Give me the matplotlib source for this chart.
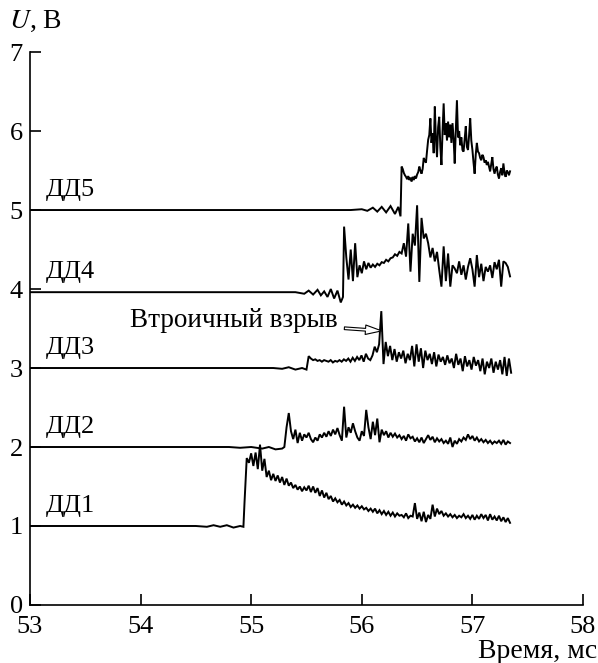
import numpy as np
import matplotlib
matplotlib.use("Agg")
import matplotlib.pyplot as plt

plt.rcParams['font.family'] = ['Liberation Serif', 'DejaVu Serif']
plt.rcParams['mathtext.fontset'] = 'stix'

# ---------------- data ----------------
x_ticks = [53, 54, 55, 56, 57, 58]
y_ticks = [0, 1, 2, 3, 4, 5, 6, 7]
labels = ["ДД1", "ДД2", "ДД3", "ДД4", "ДД5"]
baselines = [1.0, 2.0, 3.0, 3.96, 5.0]

# quiet part (t, v) and noisy part (t_start, t_end, values)
dd1_quiet_t = [53.0, 54.50, 54.60, 54.66, 54.72, 54.78, 54.84, 54.90, 54.93]
dd1_quiet_v = [1.0, 1.0, 0.99, 1.01, 0.99, 1.01, 0.98, 1.00, 0.99]
dd1_span = (54.94, 57.34)
dd1_v = [1.30, 1.86, 1.80, 1.92, 1.76, 1.93, 1.72, 2.03, 1.70, 1.85, 1.62, 1.70, 1.58, 1.66, 1.57,
         1.64, 1.55, 1.62, 1.52, 1.60, 1.51, 1.55, 1.48, 1.52, 1.46, 1.50, 1.44, 1.49, 1.45, 1.51,
         1.43, 1.50, 1.42, 1.48, 1.38, 1.45, 1.36, 1.42, 1.34, 1.38, 1.31, 1.35, 1.30, 1.33, 1.27,
         1.31, 1.26, 1.29, 1.24, 1.27, 1.23, 1.26, 1.22, 1.25, 1.21, 1.23, 1.19, 1.22, 1.18, 1.22,
         1.16, 1.20, 1.15, 1.19, 1.14, 1.18, 1.13, 1.17, 1.12, 1.16, 1.13, 1.14, 1.11, 1.16, 1.10,
         1.13, 1.12, 1.29, 1.09, 1.17, 1.06, 1.18, 1.05, 1.14, 1.09, 1.27, 1.12, 1.22, 1.15, 1.19,
         1.13, 1.16, 1.12, 1.15, 1.11, 1.14, 1.10, 1.13, 1.11, 1.15, 1.10, 1.13, 1.09, 1.14, 1.08,
         1.13, 1.09, 1.15, 1.10, 1.14, 1.07, 1.15, 1.08, 1.12, 1.07, 1.13, 1.06, 1.11, 1.05, 1.10,
         1.04]

dd2_quiet_t = [53.0, 54.80, 54.90, 55.00, 55.10, 55.16, 55.22, 55.28]
dd2_quiet_v = [2.0, 2.0, 1.99, 2.00, 1.98, 2.00, 1.97, 1.98]
dd2_span = (55.30, 57.34)
dd2_v = [2.00, 2.25, 2.43, 2.20, 2.10, 2.22, 2.05, 2.18, 2.08, 2.16, 2.12, 2.18, 2.10, 2.06, 2.12,
         2.08, 2.16, 2.12, 2.18, 2.13, 2.20, 2.14, 2.22, 2.16, 2.24, 2.15, 2.08, 2.51, 2.12, 2.25,
         2.18, 2.30, 2.20, 2.12, 2.08, 2.20, 2.14, 2.47, 2.25, 2.10, 2.32, 2.15, 2.36, 2.06, 2.22,
         2.15, 2.20, 2.12, 2.18, 2.13, 2.17, 2.12, 2.15, 2.10, 2.14, 2.08, 2.16, 2.11, 2.13, 2.07,
         2.11, 2.06, 2.12, 2.05, 2.10, 2.15, 2.09, 2.13, 2.06, 2.11, 2.07, 2.10, 2.05, 2.08, 2.04,
         2.12, 2.00, 2.08, 2.04, 2.10, 2.07, 2.12, 2.09, 2.16, 2.10, 2.14, 2.08, 2.12, 2.07, 2.10,
         2.06, 2.09, 2.05, 2.08, 2.04, 2.07, 2.05, 2.08, 2.04, 2.09, 2.03, 2.07, 2.05]

dd3_quiet_t = [53.0, 55.20, 55.28, 55.34, 55.40, 55.46, 55.50]
dd3_quiet_v = [3.0, 3.0, 2.99, 3.01, 2.98, 3.00, 2.98]
dd3_span = (55.52, 57.35)
dd3_v = [3.15, 3.12, 3.10, 3.11, 3.09, 3.10, 3.08, 3.10, 3.09, 3.08, 3.10, 3.07, 3.09, 3.08, 3.10,
         3.08, 3.11, 3.09, 3.12, 3.08, 3.13, 3.09, 3.14, 3.10, 3.16, 3.08, 3.18, 3.12, 3.10, 3.16,
         3.27, 3.20, 3.30, 3.72, 3.05, 3.33, 3.15, 3.28, 3.10, 3.24, 3.08, 3.20, 3.12, 3.22, 3.06,
         3.18, 3.10, 3.28, 3.02, 3.30, 3.08, 3.25, 3.00, 3.22, 3.10, 3.18, 3.05, 3.20, 3.02, 3.17,
         3.08, 3.14, 3.04, 3.16, 3.06, 3.12, 3.00, 3.18, 3.04, 3.12, 2.96, 3.15, 3.02, 3.10, 2.98,
         3.14, 3.03, 3.10, 2.96, 3.12, 2.92, 3.08, 3.00, 3.12, 2.94, 3.08, 2.98, 3.10, 2.92, 3.14,
         2.90, 3.12, 2.94]

dd4_quiet_t = [53.0, 55.40, 55.48, 55.52, 55.56, 55.60, 55.63, 55.66, 55.69, 55.72, 55.75, 55.78, 55.81, 55.83]
dd4_quiet_v = [3.96, 3.96, 3.94, 3.98, 3.93, 3.99, 3.92, 3.97, 3.90, 4.00, 3.88, 3.98, 3.83, 3.90]
dd4_span = (55.84, 57.34)
dd4_v = [4.79, 4.40, 4.12, 4.50, 4.10, 4.58, 4.15, 4.30, 4.20, 4.35, 4.25, 4.33, 4.27, 4.31, 4.28,
         4.32, 4.30, 4.34, 4.33, 4.37, 4.35, 4.39, 4.40, 4.44, 4.42, 4.47, 4.45, 4.58, 4.41, 4.83,
         4.22, 4.70, 4.55, 5.06, 4.09, 4.90, 4.64, 4.70, 4.58, 4.40, 4.52, 4.35, 4.47, 4.24, 4.03,
         4.54, 4.10, 4.45, 4.03, 4.30, 4.26, 4.20, 4.35, 4.18, 4.30, 4.12, 4.28, 4.39, 4.25, 4.03,
         4.43, 4.15, 4.32, 4.10, 4.28, 4.22, 4.30, 4.14, 4.34, 4.25, 4.37, 4.03, 4.35, 4.33, 4.28,
         4.16]

dd5_quiet_t = [53.0, 55.90, 56.00, 56.05, 56.10, 56.14, 56.18, 56.22, 56.26, 56.30, 56.33, 56.35]
dd5_quiet_v = [5.0, 5.0, 5.01, 4.99, 5.03, 4.98, 5.04, 4.97, 5.05, 4.95, 5.04, 4.92]
dd5_span = (56.36, 57.34)
dd5_v = [5.55, 5.52, 5.47, 5.44, 5.42, 5.39, 5.43, 5.38, 5.41, 5.36, 5.42, 5.38, 5.43, 5.40, 5.45,
         5.48, 5.55, 5.50, 5.46, 5.52, 5.66, 5.62, 5.60, 5.75, 5.89, 5.95, 6.16, 5.85, 5.97, 5.72,
         6.31, 5.90, 5.67, 6.05, 6.18, 5.80, 5.57, 6.00, 6.35, 5.95, 6.10, 5.88, 6.12, 5.92, 6.08,
         5.85, 6.10, 5.90, 5.59, 6.02, 6.39, 5.92, 6.00, 5.82, 5.92, 5.76, 5.74, 5.90, 6.06, 5.80,
         5.76, 5.95, 6.16, 5.88, 5.76, 5.60, 5.46, 5.70, 5.85, 5.74, 5.72, 5.66, 5.63, 5.70, 5.67,
         5.60, 5.63, 5.57, 5.61, 5.55, 5.49, 5.58, 5.67, 5.52, 5.46, 5.52, 5.55, 5.45, 5.40, 5.48,
         5.53, 5.44, 5.59, 5.47, 5.42, 5.50, 5.48, 5.44, 5.49]

traces = [
    (dd1_quiet_t, dd1_quiet_v, dd1_span, dd1_v),
    (dd2_quiet_t, dd2_quiet_v, dd2_span, dd2_v),
    (dd3_quiet_t, dd3_quiet_v, dd3_span, dd3_v),
    (dd4_quiet_t, dd4_quiet_v, dd4_span, dd4_v),
    (dd5_quiet_t, dd5_quiet_v, dd5_span, dd5_v),
]

# ---------------- figure ----------------
fig = plt.figure(figsize=(5.98, 6.63), dpi=100)
ax = fig.add_axes([0.050, 0.0875, 0.925, 0.834])

for (qt, qv, span, vals) in traces:
    tn = np.linspace(span[0], span[1], len(vals))
    t = np.concatenate([qt, tn])
    v = np.concatenate([qv, vals])
    ax.plot(t, v, color='black', lw=1.4, solid_joinstyle='miter')

for lab, b in zip(labels, baselines):
    ax.text(53.14, b + 0.25, lab, fontsize=19, va='center', ha='left')

ax.annotate("Втроичный взрыв", xy=(56.18, 3.47), xytext=(55.78, 3.52),
            fontsize=19.5, ha='right', va='baseline',
            arrowprops=dict(arrowstyle="simple,head_length=0.6,head_width=0.35,tail_width=0.1",
                            fc='white', ec='black', lw=0.8, shrinkA=3, shrinkB=0))

ax.set_xlim(53, 58)
ax.set_ylim(0, 7)
ax.set_xticks(x_ticks)
ax.set_yticks(y_ticks)
ax.spines['top'].set_visible(False)
ax.spines['right'].set_visible(False)
for s in ['left', 'bottom']:
    ax.spines[s].set_linewidth(1.2)
ax.tick_params(direction='in', length=8, width=1.2, labelsize=19)
ax.tick_params(axis='x', pad=8)
ax.tick_params(axis='y', pad=5)

fig.text(0.015, 0.967, r'$U$, В', fontsize=20, ha='left', va='center')
fig.text(0.998, 0.018, 'Время, мс', fontsize=20, ha='right', va='center')

fig.savefig('out.png', dpi=100)
